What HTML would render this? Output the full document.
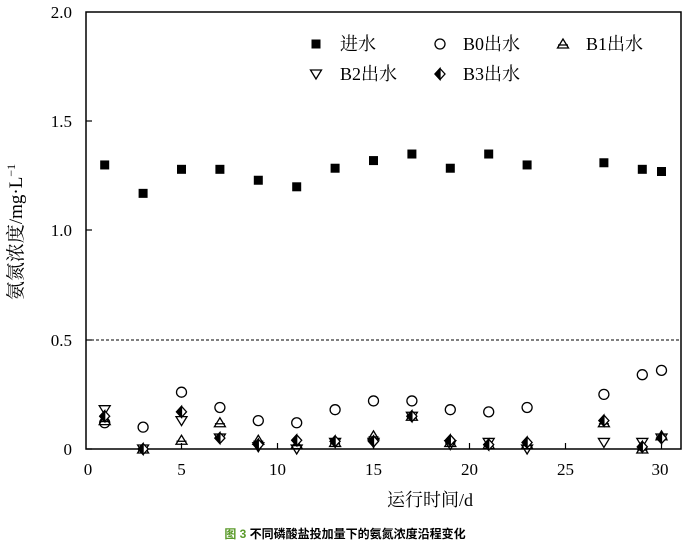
<!DOCTYPE html>
<html><head><meta charset="utf-8"><style>
body{margin:0;background:#fff;width:691px;height:545px;overflow:hidden}
svg text{font-family:"Liberation Serif","Noto Serif CJK SC",serif;fill:#000}
</style></head><body>
<svg id="s" width="691" height="545" xmlns="http://www.w3.org/2000/svg">
<rect x="86" y="12" width="595" height="437" fill="none" stroke="#000" stroke-width="1.5"/>
<line x1="86" y1="340" x2="681" y2="340" stroke="#000" stroke-width="1" stroke-dasharray="3,2"/>
<g stroke="#000" stroke-width="1.2">
<line x1="86" y1="121" x2="92" y2="121"/><line x1="86" y1="230" x2="92" y2="230"/><line x1="86" y1="340" x2="92" y2="340"/><line x1="86" y1="449" x2="92" y2="449"/>
<line x1="181.5" y1="449" x2="181.5" y2="443"/><line x1="277.5" y1="449" x2="277.5" y2="443"/><line x1="373.5" y1="449" x2="373.5" y2="443"/><line x1="469.5" y1="449" x2="469.5" y2="443"/><line x1="565.5" y1="449" x2="565.5" y2="443"/><line x1="661.5" y1="449" x2="661.5" y2="443"/>
</g>
<g font-size="17" text-anchor="end">
<text x="72" y="18">2.0</text><text x="72" y="127">1.5</text><text x="72" y="236">1.0</text><text x="72" y="346">0.5</text><text x="72" y="455">0</text>
</g>
<g font-size="17" text-anchor="middle">
<text x="88" y="475">0</text><text x="181.5" y="475">5</text><text x="277.5" y="475">10</text><text x="373.5" y="475">15</text><text x="469.5" y="475">20</text><text x="565.5" y="475">25</text><text x="660" y="475">30</text>
<text x="430" y="506" font-size="18">运行时间/d</text>
</g>
<text transform="translate(22,232) rotate(-90)" text-anchor="middle" font-size="19">氨氮浓度/mg·L<tspan dy="-7" font-size="12">−1</tspan></text>
<text x="345" y="538" text-anchor="middle" font-size="12" font-weight="bold" style="font-family:'Liberation Sans','Noto Sans CJK SC',sans-serif"><tspan style="fill:#5a9a2a">图 3</tspan> 不同磷酸盐投加量下的氨氮浓度沿程变化</text>
<g font-size="18">
<text x="340" y="50">进水</text><text x="463" y="50">B0出水</text><text x="586" y="50">B1出水</text>
<text x="340" y="80">B2出水</text><text x="463" y="80">B3出水</text>
</g>
<g id="m" stroke="#000" stroke-width="1.3"></g>
</svg>
<script>
const g=document.getElementById('m');
const X=d=>85.5+19.2*d, Y=v=>449-218.5*v;
function add(h){g.insertAdjacentHTML('beforeend',h);}
function sq(x,y){add(`<rect x="${x-4.5}" y="${y-4.5}" width="9" height="9" fill="#000" stroke="none"/>`);}
function ci(x,y){add(`<circle cx="${x}" cy="${y}" r="5" fill="none"/>`);}
function up(x,y){add(`<polygon points="${x},${y-5} ${x-5.5},${y+4} ${x+5.5},${y+4}" fill="none"/><line x1="${x-5}" y1="${y+1}" x2="${x+5}" y2="${y+1}"/>`);}
function dn(x,y){add(`<polygon points="${x},${y+5} ${x-5.5},${y-4} ${x+5.5},${y-4}" fill="none"/>`);}
function di(x,y){add(`<polygon points="${x},${y-5.5} ${x+5},${y} ${x},${y+5.5} ${x-5},${y}" fill="#fff"/><polygon points="${x},${y-5.5} ${x},${y+5.5} ${x-5},${y}" fill="#000"/>`);}
const d=[1,3,5,7,9,11,13,15,17,19,21,23,27,29,30];
const inf=[1.30,1.17,1.28,1.28,1.23,1.20,1.285,1.32,1.35,1.285,1.35,1.30,1.31,1.28,1.27];
const b0=[0.12,0.10,0.26,0.19,0.13,0.12,0.18,0.22,0.22,0.18,0.17,0.19,0.25,0.34,0.36];
const b1=[0.13,0.0,0.04,0.12,0.04,0.02,0.03,0.06,0.15,0.03,0.02,0.02,0.12,0.0,0.06];
const b2=[0.18,0.0,0.13,0.05,0.01,0.0,0.03,0.03,0.15,0.02,0.03,0.0,0.03,0.03,0.05];
const b3=[0.15,0.0,0.17,0.05,0.02,0.04,0.035,0.035,0.15,0.04,0.02,0.03,0.13,0.01,0.05];
d.forEach((t,i)=>{const x=X(t);sq(x,Y(inf[i]));ci(x,Y(b0[i]));up(x,Y(b1[i]));dn(x,Y(b2[i]));di(x,Y(b3[i]));});
sq(316,44);ci(440,44);up(563,44);dn(316,74);di(440,74);
</script>
</body></html>
